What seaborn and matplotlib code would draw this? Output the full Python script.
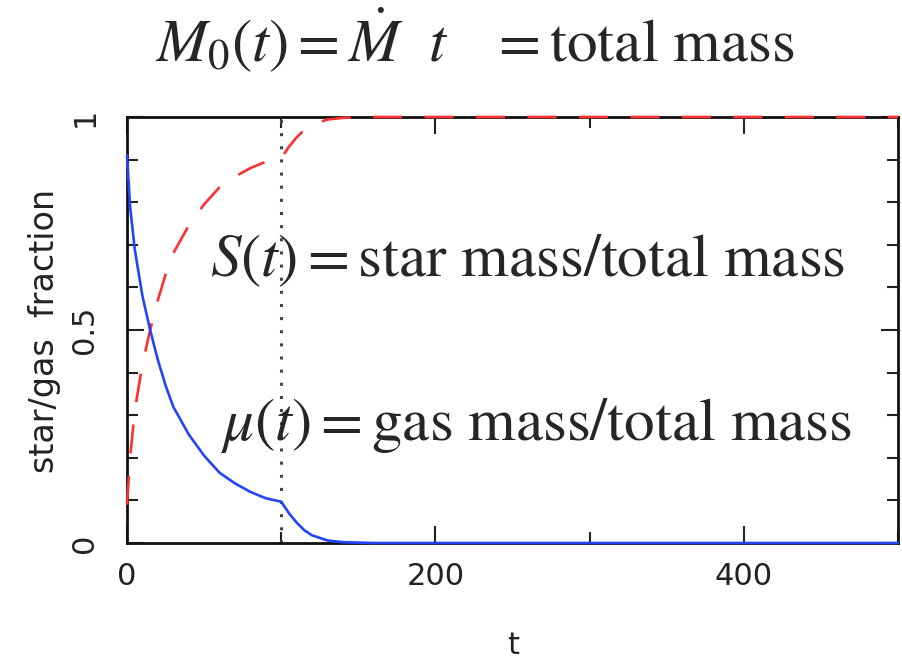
import numpy as np
import pandas as pd
import matplotlib
matplotlib.use("Agg")
import matplotlib.pyplot as plt
import seaborn as sns
from matplotlib.ticker import MultipleLocator

# values
t = [0, 2, 5, 10, 15, 20, 25, 30, 40, 50, 60, 70, 80, 90, 100,
     105, 110, 115, 120, 130, 140, 160, 200, 300, 400, 500]
gas_frac = [0.91, 0.79, 0.69, 0.58, 0.50, 0.43, 0.37, 0.32, 0.255, 0.205, 0.165,
            0.14, 0.12, 0.105, 0.097, 0.07, 0.048, 0.030, 0.018, 0.006, 0.002,
            0.0, 0.0, 0.0, 0.0, 0.0]
star_frac = [0.09, 0.20, 0.31, 0.42, 0.50, 0.57, 0.63, 0.68, 0.745, 0.795, 0.835,
             0.86, 0.88, 0.895, 0.903, 0.93, 0.952, 0.97, 0.982, 0.994, 0.998,
             1.0, 1.0, 1.0, 1.0, 1.0]
t_switch = 100

df = pd.DataFrame({"t": t, "gas": gas_frac, "star": star_frac})

sns.set_style("ticks")
plt.rcParams["font.family"] = ["DejaVu Sans"]
plt.rcParams["mathtext.fontset"] = "stix"

fig = plt.figure(figsize=(9.02, 6.61), dpi=100)
ax = fig.add_axes([0.1408, 0.1785, 0.8548, 0.6445])

sns.lineplot(data=df, x="t", y="star", ax=ax, color="#ff3030", lw=1.9,
             linestyle=(0, (11, 8.5)), zorder=4, clip_on=False)
sns.lineplot(data=df, x="t", y="gas", ax=ax, color="#2244ff", lw=1.9,
             zorder=4, clip_on=False)
ax.axvline(t_switch, color="#444444", lw=2.2, ls=(0, (1, 3.3)))

ax.set_xlim(0, 500)
ax.set_ylim(0, 1)
ax.xaxis.set_major_locator(MultipleLocator(200))
ax.xaxis.set_minor_locator(MultipleLocator(100))
ax.yaxis.set_major_locator(MultipleLocator(0.5))
ax.yaxis.set_minor_locator(MultipleLocator(0.1))
ax.set_yticks([0, 0.5, 1])
ax.set_yticklabels(["0", "0.5", "1"], rotation=90, va="center")
ax.set_xticks([0, 200, 400])
ax.set_xticklabels(["0", "200", "400"])

ax.tick_params(which="both", direction="in", top=True, right=True,
               colors="#222222", labelsize=22, width=1.5)
ax.tick_params(which="major", length=12)
ax.tick_params(which="minor", length=8)
ax.tick_params(axis="x", pad=14)
ax.tick_params(axis="y", pad=20)
for s in ax.spines.values():
    s.set_linewidth(2.0)
    s.set_color("#111111")

ax.set_xlabel("")
ax.set_ylabel("")
fig.text(513 / 902, 1 - 645 / 661, "t", fontsize=22, ha="center",
         va="center", color="#222222")
fig.text(45 / 902, 1 - 331 / 661, "star/gas  fraction", fontsize=24,
         rotation=90, ha="center", va="center", color="#222222")

fig.text(155 / 902, 1 - 62 / 661,
         r"$M_0(t) = \dot{M}\ \ t\ \ \ = \mathrm{total\ mass}$",
         fontsize=44, va="baseline")
fig.text(210 / 902, 1 - 276 / 661,
         r"$S(t) = \mathrm{star\ mass/total\ mass}$",
         fontsize=44, va="baseline")
fig.text(220 / 902, 1 - 440 / 661,
         r"$\mu(t) = \mathrm{gas\ mass/total\ mass}$",
         fontsize=44, va="baseline")

fig.savefig("out.png", dpi=100)
